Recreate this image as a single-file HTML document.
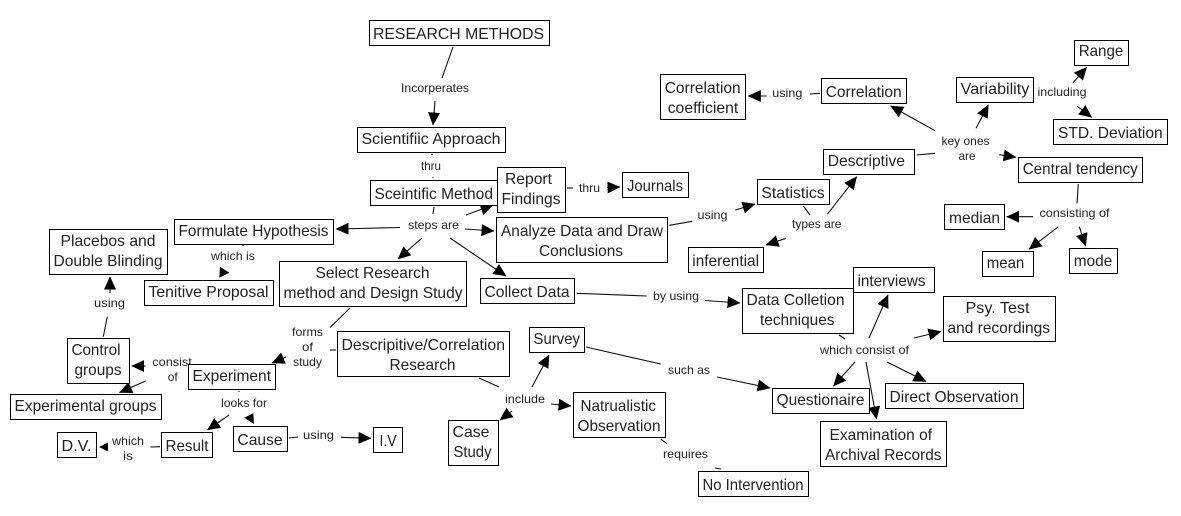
<!DOCTYPE html>
<html><head><meta charset="utf-8"><title>Research Methods</title>
<style>
html,body{margin:0;padding:0;background:#fff}
svg{display:block}
rect{fill:#fff;stroke:#000;stroke-width:1}
line{stroke:#111;stroke-width:1.1}
.a{marker-end:url(#h)}
text{font-family:"Liberation Sans",Arial,sans-serif;fill:#222;white-space:pre}
.n text{font-size:16px}
.l text{font-size:12px}
</style></head><body>
<svg width="1181" height="516" viewBox="0 0 1181 516" xmlns="http://www.w3.org/2000/svg">
<defs><marker id="h" markerUnits="userSpaceOnUse" markerWidth="14" markerHeight="13" refX="12.5" refY="6.5" orient="auto"><path d="M0,0.5 L13,6.5 L0,12.5 Z" fill="#000"/></marker></defs>
<rect x="0" y="0" width="1181" height="516" style="stroke:none"/>
<g>
<line x1="453" y1="47" x2="442" y2="78"/>
<line class="a" x1="435" y1="101" x2="433" y2="125"/>
<line x1="432" y1="154" x2="432" y2="155"/>
<line x1="433" y1="177" x2="433" y2="178"/>
<line x1="434" y1="207" x2="433" y2="214"/>
<line class="a" x1="400" y1="227.5" x2="336" y2="229"/>
<line class="a" x1="466" y1="215" x2="493" y2="205"/>
<line class="a" x1="465" y1="229" x2="494" y2="231"/>
<line class="a" x1="422" y1="238" x2="398" y2="259"/>
<line class="a" x1="450" y1="238" x2="506" y2="276"/>
<line x1="567" y1="188" x2="573" y2="188"/>
<line class="a" x1="607" y1="187.5" x2="620" y2="187"/>
<line x1="669.3" y1="225.3" x2="692.3" y2="221.3"/>
<line class="a" x1="735.3" y1="210" x2="755" y2="204"/>
<line x1="803.3" y1="206" x2="810" y2="215"/>
<line class="a" x1="827.3" y1="214.3" x2="856.7" y2="176.7"/>
<line class="a" x1="786" y1="238.3" x2="766" y2="245"/>
<line x1="916.7" y1="155" x2="935" y2="153.3"/>
<line class="a" x1="935" y1="130.7" x2="890.7" y2="106"/>
<line class="a" x1="976" y1="128.3" x2="988.3" y2="105"/>
<line class="a" x1="999.3" y1="154.7" x2="1016" y2="157.3"/>
<line x1="820" y1="93.3" x2="810" y2="94"/>
<line class="a" x1="766.7" y1="96" x2="748.3" y2="96"/>
<line class="a" x1="1073" y1="82.7" x2="1086.7" y2="67.3"/>
<line class="a" x1="1077.3" y1="106.3" x2="1091.7" y2="117.3"/>
<line x1="1078.3" y1="184" x2="1077" y2="203.3"/>
<line class="a" x1="1033" y1="216.7" x2="1006.7" y2="216.7"/>
<line class="a" x1="1058.3" y1="226.7" x2="1029" y2="249.3"/>
<line class="a" x1="1079.3" y1="226.7" x2="1085.7" y2="246"/>
<line x1="576.7" y1="293.3" x2="646.7" y2="296"/>
<line class="a" x1="705" y1="300.5" x2="740" y2="303"/>
<line x1="839" y1="335" x2="845" y2="339"/>
<line class="a" x1="869" y1="338" x2="888" y2="295"/>
<line class="a" x1="914" y1="338" x2="941" y2="331.5"/>
<line class="a" x1="887" y1="362" x2="926" y2="381.5"/>
<line class="a" x1="866" y1="362" x2="876.5" y2="419"/>
<line class="a" x1="855" y1="362" x2="833.5" y2="386"/>
<line x1="586" y1="347" x2="660.7" y2="364"/>
<line class="a" x1="717" y1="377" x2="770" y2="388"/>
<line x1="479" y1="378" x2="499" y2="387"/>
<line class="a" x1="532" y1="387" x2="549" y2="355"/>
<line class="a" x1="512" y1="411" x2="500" y2="420"/>
<line class="a" x1="551" y1="404" x2="571" y2="406"/>
<line x1="660.7" y1="439" x2="667" y2="443.7"/>
<line x1="715" y1="468" x2="721" y2="469"/>
<line x1="350" y1="308" x2="330" y2="327.5"/>
<line x1="330" y1="350" x2="336" y2="350"/>
<line class="a" x1="286" y1="357" x2="272" y2="363"/>
<line class="a" x1="145.7" y1="366" x2="131.7" y2="366"/>
<line class="a" x1="145.7" y1="381" x2="119.5" y2="392.5"/>
<line x1="103.3" y1="336.7" x2="107.3" y2="316.7"/>
<line class="a" x1="110" y1="293" x2="110" y2="277"/>
<line x1="243" y1="245" x2="243" y2="246"/>
<line x1="239" y1="391" x2="239" y2="392"/>
<line class="a" x1="229" y1="415" x2="207.5" y2="430"/>
<line x1="160" y1="446.7" x2="150.3" y2="447"/>
<line x1="289" y1="438" x2="298" y2="437"/>
<line class="a" x1="341" y1="437.3" x2="371" y2="438.3"/>
<polygon points="253.3,413.3 244.3,417.7 254,424" fill="#000"/>
<polygon points="220,266.7 229.3,272.7 219.3,277.7" fill="#000"/>
<polygon points="108,442.5 108,451.5 99,447" fill="#000"/>
</g>
<g class="l">
<text x="401" y="92" textLength="68" lengthAdjust="spacingAndGlyphs">Incorperates</text>
<text x="421" y="170" textLength="20" lengthAdjust="spacingAndGlyphs">thru</text>
<text x="408" y="229" textLength="51" lengthAdjust="spacingAndGlyphs">steps are</text>
<text x="579" y="192" textLength="21" lengthAdjust="spacingAndGlyphs">thru</text>
<text x="697.5" y="219" textLength="30" lengthAdjust="spacingAndGlyphs">using</text>
<text x="792" y="228" textLength="49.5" lengthAdjust="spacingAndGlyphs">types are</text>
<text x="941.5" y="145" textLength="48" lengthAdjust="spacingAndGlyphs">key ones</text>
<text x="958.5" y="160" textLength="17" lengthAdjust="spacingAndGlyphs">are</text>
<text x="772.3" y="97" textLength="30" lengthAdjust="spacingAndGlyphs">using</text>
<text x="1037.5" y="96" textLength="49" lengthAdjust="spacingAndGlyphs">including</text>
<text x="1039.5" y="217" textLength="70" lengthAdjust="spacingAndGlyphs">consisting of</text>
<text x="653" y="300" textLength="46" lengthAdjust="spacingAndGlyphs">by using</text>
<text x="820" y="354" textLength="89" lengthAdjust="spacingAndGlyphs">which consist of</text>
<text x="668" y="374" textLength="42" lengthAdjust="spacingAndGlyphs">such as</text>
<text x="505" y="403" textLength="40" lengthAdjust="spacingAndGlyphs">include</text>
<text x="663" y="458" textLength="45" lengthAdjust="spacingAndGlyphs">requires</text>
<text x="292" y="336" textLength="31" lengthAdjust="spacingAndGlyphs">forms</text>
<text x="302" y="351" textLength="11" lengthAdjust="spacingAndGlyphs">of</text>
<text x="293" y="366" textLength="29" lengthAdjust="spacingAndGlyphs">study</text>
<text x="94" y="307" textLength="31" lengthAdjust="spacingAndGlyphs">using</text>
<text x="211" y="260" textLength="44" lengthAdjust="spacingAndGlyphs">which is</text>
<text x="221" y="407" textLength="46" lengthAdjust="spacingAndGlyphs">looks for</text>
<text x="112" y="445" textLength="32" lengthAdjust="spacingAndGlyphs">which</text>
<text x="123" y="460" textLength="10" lengthAdjust="spacingAndGlyphs">is</text>
<text x="303" y="439" textLength="31" lengthAdjust="spacingAndGlyphs">using</text>
<text x="152.3" y="366" textLength="39.5" lengthAdjust="spacingAndGlyphs">consist</text>
<text x="167.7" y="381" textLength="10" lengthAdjust="spacingAndGlyphs">of</text>
</g>
<g class="n">
<rect x="369.5" y="20.5" width="180" height="25"/><text x="373" y="39" textLength="171" lengthAdjust="spacingAndGlyphs">RESEARCH METHODS</text>
<rect x="357.5" y="127.5" width="148" height="25"/><text x="361.5" y="144" textLength="139" lengthAdjust="spacingAndGlyphs">Scientifiic Approach</text>
<rect x="370.5" y="180.5" width="127" height="25"/><text x="374.5" y="199" textLength="118.5" lengthAdjust="spacingAndGlyphs">Sceintific Method</text>
<rect x="497.5" y="167.5" width="68" height="45"/><text x="505" y="184" textLength="47" lengthAdjust="spacingAndGlyphs">Report</text><text x="501.5" y="204" textLength="59" lengthAdjust="spacingAndGlyphs">Findings</text>
<rect x="622.5" y="172.5" width="66" height="25"/><text x="627" y="191" textLength="56" lengthAdjust="spacingAndGlyphs">Journals</text>
<rect x="496.5" y="217.5" width="171" height="45"/><text x="501" y="236" textLength="162" lengthAdjust="spacingAndGlyphs">Analyze Data and Draw</text><text x="539" y="256" textLength="84" lengthAdjust="spacingAndGlyphs">Conclusions</text>
<rect x="480.5" y="278.5" width="94" height="25"/><text x="484.5" y="297" textLength="85" lengthAdjust="spacingAndGlyphs">Collect Data</text>
<rect x="279.5" y="261.5" width="187" height="45"/><text x="315.5" y="278" textLength="114" lengthAdjust="spacingAndGlyphs">Select Research</text><text x="283.5" y="298" textLength="179" lengthAdjust="spacingAndGlyphs">method and Design Study</text>
<rect x="174.5" y="219.5" width="159" height="25"/><text x="178.5" y="236" textLength="150" lengthAdjust="spacingAndGlyphs">Formulate Hypothesis</text>
<rect x="49.5" y="229.5" width="118" height="45"/><text x="60.5" y="246" textLength="95" lengthAdjust="spacingAndGlyphs">Placebos and</text><text x="53.5" y="266" textLength="109" lengthAdjust="spacingAndGlyphs">Double Blinding</text>
<rect x="144.5" y="280.5" width="129" height="25"/><text x="148.5" y="297" textLength="120" lengthAdjust="spacingAndGlyphs">Tenitive Proposal</text>
<rect x="67.5" y="338.5" width="62" height="45"/><text x="71.5" y="355" textLength="49" lengthAdjust="spacingAndGlyphs">Control</text><text x="74.5" y="375" textLength="47" lengthAdjust="spacingAndGlyphs">groups</text>
<rect x="10.5" y="394.5" width="151" height="25"/><text x="14.5" y="411" textLength="142" lengthAdjust="spacingAndGlyphs">Experimental groups</text>
<rect x="188.5" y="364.5" width="87" height="25"/><text x="192.5" y="381" textLength="78.5" lengthAdjust="spacingAndGlyphs">Experiment</text>
<rect x="337.5" y="331.5" width="172" height="45"/><text x="341.5" y="350" textLength="163.5" lengthAdjust="spacingAndGlyphs">Descripitive/Correlation</text><text x="389.5" y="370" textLength="66" lengthAdjust="spacingAndGlyphs">Research</text>
<rect x="57.5" y="432.5" width="39" height="25"/><text x="61.5" y="451" textLength="30" lengthAdjust="spacingAndGlyphs">D.V.</text>
<rect x="161.5" y="432.5" width="51" height="25"/><text x="165.5" y="451" textLength="43" lengthAdjust="spacingAndGlyphs">Result</text>
<rect x="233.5" y="426.5" width="54" height="25"/><text x="237.5" y="445" textLength="45" lengthAdjust="spacingAndGlyphs">Cause</text>
<rect x="373.5" y="427.5" width="29" height="25"/><text x="379.5" y="446" textLength="17" lengthAdjust="spacingAndGlyphs">I.V</text>
<rect x="529.5" y="327.5" width="55" height="25"/><text x="533.5" y="344" textLength="46.5" lengthAdjust="spacingAndGlyphs">Survey</text>
<rect x="573.5" y="392.5" width="92" height="45"/><text x="580.5" y="411" textLength="75.5" lengthAdjust="spacingAndGlyphs">Natrualistic</text><text x="577.5" y="431" textLength="83" lengthAdjust="spacingAndGlyphs">Observation</text>
<rect x="448.5" y="420.5" width="50" height="45"/><text x="452.5" y="437" textLength="37" lengthAdjust="spacingAndGlyphs">Case</text><text x="453.5" y="457" textLength="38" lengthAdjust="spacingAndGlyphs">Study</text>
<rect x="698.5" y="471.5" width="110" height="25"/><text x="702.5" y="490" textLength="101" lengthAdjust="spacingAndGlyphs">No Intervention</text>
<rect x="742.5" y="288.5" width="111" height="45"/><text x="746.5" y="305" textLength="98" lengthAdjust="spacingAndGlyphs">Data Colletion</text><text x="760" y="325" textLength="74.5" lengthAdjust="spacingAndGlyphs">techniques</text>
<rect x="853.5" y="267.5" width="81" height="25"/><text x="857.5" y="286" textLength="68" lengthAdjust="spacingAndGlyphs">interviews</text>
<rect x="943.5" y="296.5" width="112" height="45"/><text x="965.5" y="313" textLength="64" lengthAdjust="spacingAndGlyphs">Psy. Test</text><text x="947.5" y="333" textLength="102.5" lengthAdjust="spacingAndGlyphs">and recordings</text>
<rect x="772.5" y="388.5" width="97" height="25"/><text x="776.5" y="405" textLength="88" lengthAdjust="spacingAndGlyphs">Questionaire</text>
<rect x="885.5" y="383.5" width="138" height="25"/><text x="889.5" y="402" textLength="129" lengthAdjust="spacingAndGlyphs">Direct Observation</text>
<rect x="820.5" y="421.5" width="126" height="45"/><text x="829.5" y="440" textLength="102.5" lengthAdjust="spacingAndGlyphs">Examination of</text><text x="825" y="460" textLength="116.5" lengthAdjust="spacingAndGlyphs">Archival Records</text>
<rect x="660.5" y="74.5" width="85" height="45"/><text x="664.7" y="93" textLength="76" lengthAdjust="spacingAndGlyphs">Correlation</text><text x="667.7" y="113" textLength="70.6" lengthAdjust="spacingAndGlyphs">coefficient</text>
<rect x="821.5" y="78.5" width="85" height="25"/><text x="825.7" y="97" textLength="76" lengthAdjust="spacingAndGlyphs">Correlation</text>
<rect x="956.5" y="77.5" width="77" height="25"/><text x="960.7" y="94" textLength="68.6" lengthAdjust="spacingAndGlyphs">Variability</text>
<rect x="1074.5" y="40.5" width="54" height="25"/><text x="1078.7" y="56" textLength="44.6" lengthAdjust="spacingAndGlyphs">Range</text>
<rect x="1053.5" y="119.5" width="114" height="25"/><text x="1058" y="138" textLength="104.7" lengthAdjust="spacingAndGlyphs">STD. Deviation</text>
<rect x="823.5" y="149.5" width="91" height="25"/><text x="827.7" y="166" textLength="77.3" lengthAdjust="spacingAndGlyphs">Descriptive</text>
<rect x="1018.5" y="157.5" width="124" height="25"/><text x="1022.7" y="174" textLength="115" lengthAdjust="spacingAndGlyphs">Central tendency</text>
<rect x="757.5" y="179.5" width="72" height="25"/><text x="761.3" y="198" textLength="63.4" lengthAdjust="spacingAndGlyphs">Statistics</text>
<rect x="688.5" y="247.5" width="75" height="25"/><text x="692.3" y="266" textLength="66.7" lengthAdjust="spacingAndGlyphs">inferential</text>
<rect x="944.5" y="204.5" width="60" height="25"/><text x="949" y="223" textLength="51" lengthAdjust="spacingAndGlyphs">median</text>
<rect x="982.5" y="251.5" width="51" height="25"/><text x="986.7" y="268" textLength="37.6" lengthAdjust="spacingAndGlyphs">mean</text>
<rect x="1069.5" y="248.5" width="48" height="25"/><text x="1073.7" y="266" textLength="38.6" lengthAdjust="spacingAndGlyphs">mode</text>
</g>
</svg>
</body></html>
